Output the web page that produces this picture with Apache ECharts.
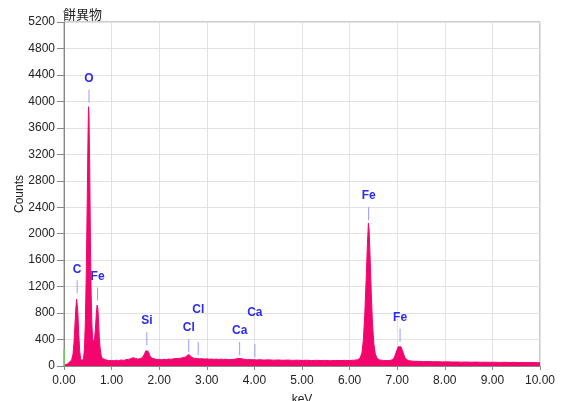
<!DOCTYPE html>
<html><head><meta charset="utf-8">
<script src="https://cdn.jsdelivr.net/npm/echarts@6/dist/echarts.min.js"></script>
<style>html,body{margin:0;padding:0;background:#fff}#c{width:564px;height:401px}</style>
</head><body><div id="c"></div>
<script>
const titleText = '餅異物';
const xName = 'keV';
const yName = 'Counts';
// spectrum: [keV, counts]
const spectrum = [
[0.00,10],[0.04,20],[0.08,35],[0.12,50],[0.16,90],[0.19,180],[0.21,350],[0.23,620],[0.25,880],[0.265,1010],[0.275,1020],[0.29,820],[0.31,480],[0.33,220],[0.35,110],[0.37,75],[0.39,80],[0.41,110],[0.43,260],[0.45,700],[0.47,1500],[0.49,2600],[0.505,3500],[0.515,3920],[0.525,3800],[0.54,3000],[0.555,1900],[0.57,1100],[0.585,650],[0.60,430],[0.62,360],[0.64,400],[0.66,560],[0.68,800],[0.695,920],[0.71,880],[0.725,700],[0.74,450],[0.76,260],[0.78,160],[0.80,120],[0.83,100],[0.86,95],
[0.90,90],[0.95,82],[1.00,85],[1.05,78],[1.10,88],[1.15,80],[1.20,92],[1.25,84],[1.30,95],[1.35,100],[1.40,110],[1.45,125],[1.50,115],[1.55,105],[1.60,110],[1.65,130],[1.69,180],[1.72,230],[1.745,250],[1.77,220],[1.80,160],[1.84,120],[1.88,105],[1.95,98],
[2.00,100],[2.05,95],[2.10,102],[2.15,98],[2.20,105],[2.25,100],[2.30,108],[2.35,112],[2.40,115],[2.45,118],[2.50,125],[2.55,135],[2.59,160],[2.62,175],[2.65,165],[2.69,130],[2.74,115],[2.80,112],[2.85,108],[2.90,110],[2.95,105],
[3.00,108],[3.05,102],[3.10,106],[3.15,100],[3.20,104],[3.25,98],[3.30,103],[3.35,99],[3.40,102],[3.45,97],[3.50,100],[3.55,98],[3.60,104],[3.65,115],[3.69,125],[3.73,112],[3.78,100],[3.85,96],[3.90,98],[3.95,94],
[4.00,96],[4.05,92],[4.10,95],[4.20,90],[4.30,93],[4.40,88],[4.50,91],[4.60,86],[4.70,90],[4.80,85],[4.90,88],[5.00,84],[5.10,87],[5.20,82],[5.30,86],[5.40,83],[5.50,85],[5.60,80],[5.70,84],[5.80,82],[5.90,85],
[6.00,83],[6.10,88],[6.17,95],[6.22,120],[6.26,200],[6.29,400],[6.32,800],[6.35,1350],[6.375,1850],[6.395,2160],[6.41,2050],[6.43,1650],[6.455,1100],[6.48,650],[6.51,330],[6.54,180],[6.58,115],[6.63,92],[6.70,85],[6.78,82],[6.85,85],[6.90,95],[6.94,130],[6.98,210],[7.02,290],[7.05,315],[7.08,290],[7.12,210],[7.16,130],[7.20,95],[7.26,78],[7.35,72],[7.45,70],[7.55,66],[7.65,68],[7.75,64],[7.85,66],[7.95,62],
[8.05,64],[8.15,60],[8.25,62],[8.35,58],[8.45,60],[8.55,57],[8.65,59],[8.75,56],[8.85,58],[8.95,55],[9.05,57],[9.15,54],[9.25,56],[9.35,53],[9.45,55],[9.55,52],[9.65,54],[9.75,51],[9.85,53],[9.95,50],[10.00,50]
];
const zeroMark = [[0,0],[0,260]];
// element markers: name, keV, counts at base of the tick line
const markerNames = ['C','O','Fe','Si','Cl','Cl','Ca','Ca','Fe','Fe'];
const markerKev = [0.277,0.525,0.705,1.74,2.62,2.82,3.69,4.01,6.40,7.06];
const markerCounts = [1100,3980,990,315,210,166,166,136,2205,367];

const markerData = markerNames.map((n,i)=>({name:n, value:[markerKev[i], markerCounts[i]]}));

const chart = echarts.init(document.getElementById('c'), null, {renderer:'canvas'});
const axisFont = {fontFamily:'Liberation Sans, Arial, sans-serif', fontSize:12, color:'#222'};

// simple label collision avoidance: raise a label above its left neighbour if they would overlap
const placed = [];
function labelY(idx, px, py){
  let y = py - 24;
  for (const q of placed){
    if (q.i < idx && Math.abs(q.x - px) < 17 && Math.abs(q.y - y) < 14) y = q.y - 18;
  }
  const existing = placed.find(q=>q.i===idx);
  if (existing){ existing.x=px; existing.y=y; } else placed.push({i:idx,x:px,y:y});
  return y;
}

chart.setOption({
  animation:false,
  title:{text:titleText, left:58, top:3, textStyle:{fontFamily:'Noto Sans CJK JP', fontSize:13, fontWeight:'normal', color:'#222'}},
  grid:{left:64, right:24, top:22, bottom:35, show:true, borderColor:'#999', borderWidth:1, outerBoundsMode:'none', containLabel:false},
  xAxis:{type:'value', min:0, max:10, interval:1, name:xName, nameLocation:'middle', nameGap:28, nameMoveOverlap:false,
    nameTextStyle:axisFont,
    axisLine:{show:true, onZero:false, lineStyle:{color:'#888'}},
    axisTick:{show:true, length:4, lineStyle:{color:'#888'}},
    axisLabel:Object.assign({formatter:v=>v.toFixed(2), margin:9}, axisFont),
    splitLine:{show:true, lineStyle:{color:'#e2e2e2'}}},
  yAxis:{type:'value', min:0, max:5200, interval:400, name:yName, nameLocation:'middle', nameGap:38, nameMoveOverlap:false,
    nameTextStyle:axisFont,
    axisLine:{show:true, lineStyle:{color:'#888'}},
    axisTick:{show:true, length:7, lineStyle:{color:'#888'}},
    axisLabel:Object.assign({margin:9, formatter:v=>String(v)}, axisFont),
    splitLine:{show:true, lineStyle:{color:'#e2e2e2'}}},
  series:[
    {type:'line', data:spectrum, symbol:'none', smooth:false,
      lineStyle:{color:'#f2066e', width:1}, areaStyle:{color:'#f2066e', opacity:1}, z:3},
    {type:'line', data:zeroMark, symbol:'none', lineStyle:{color:'#66dd66', width:1.5}, z:4},
    {type:'custom', data:markerData, z:5,
      renderItem:(params, api)=>{
        const p = api.coord([api.value(0), api.value(1)]);
        const name = markerNames[params.dataIndex];
        const ty = labelY(params.dataIndex, p[0], p[1]);
        return {type:'group', children:[
          {type:'line', shape:{x1:p[0], y1:p[1], x2:p[0], y2:p[1]-13}, style:{stroke:'#9a9aff', lineWidth:1}},
          {type:'text', style:{text:name, x:p[0], y:ty, align:'center', verticalAlign:'middle',
            fill:'#2a2af0', font:'bold 12px "Liberation Sans", Arial, sans-serif'}}
        ]};
      }}
  ]
});
</script></body></html>
